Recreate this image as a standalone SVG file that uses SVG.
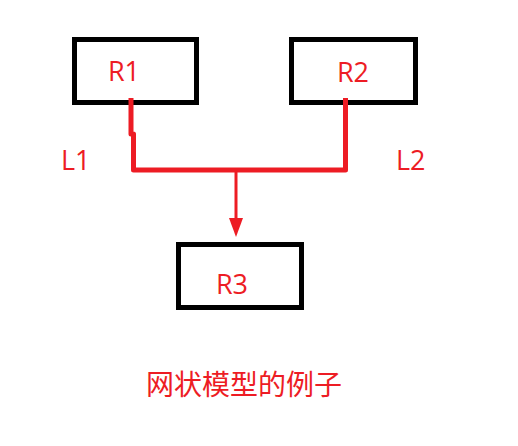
<svg xmlns="http://www.w3.org/2000/svg" width="518" height="446" viewBox="0 0 518 446">
<style>
.box{fill:#fff;stroke:#000;stroke-width:5}
.lbl{fill:#ed1c24;font-family:"Open Sans","Noto Sans","Noto Sans CJK SC",sans-serif;font-size:27px}
.cap{fill:#ed1c24;font-family:"Noto Sans CJK SC",sans-serif;font-size:28px}
.wire{fill:none;stroke:#ed1c24;stroke-width:5;stroke-linejoin:round}
</style>
<rect width="518" height="446" fill="#fff"/>
<g id="R1"><rect class="box" x="74.5" y="39.5" width="122" height="63"/><text class="lbl" x="124" y="81" text-anchor="middle">R1</text></g>
<g id="R2"><rect class="box" x="291.5" y="39.5" width="124" height="63"/><text class="lbl" x="353" y="82" text-anchor="middle">R2</text></g>
<g id="R3"><rect class="box" x="178.5" y="244.5" width="123" height="63"/><text class="lbl" x="232" y="294" text-anchor="middle">R3</text></g>
<g id="connectors">
<path class="wire" d="M131,98 V134 H133.5 V170 H345.5 V98"/>
<line x1="236" y1="171" x2="236" y2="220" stroke="#ed1c24" stroke-width="3"/>
<polygon points="229,218 243,218 236,237" fill="#ed1c24"/>
</g>
<text class="lbl" x="61" y="170">L1</text>
<text class="lbl" x="396" y="170">L2</text>
<text class="cap" x="146" y="395">网状模型的例子</text>
</svg>
